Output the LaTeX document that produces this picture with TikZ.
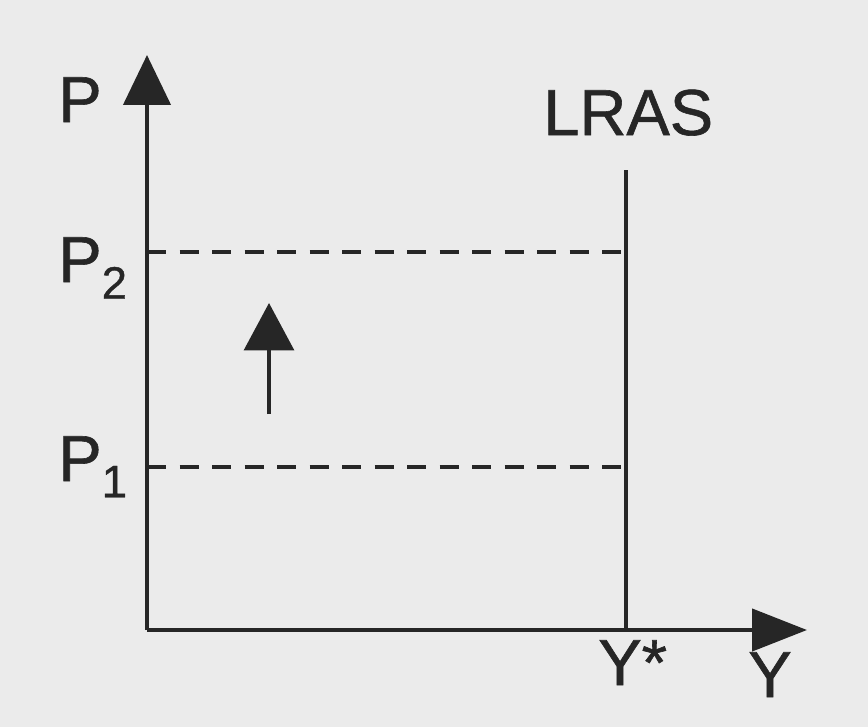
\documentclass[tikz,border=0pt]{standalone}
\usepackage{fontspec}
\setmainfont{Liberation Sans}
\newfontfamily\lblfont[FakeBold=0.9]{Liberation Sans}
\usetikzlibrary{arrows.meta}
\definecolor{bgc}{HTML}{EBEBEB}
\definecolor{ink}{HTML}{262626}
\begin{document}
\begin{tikzpicture}[x=0.02cm,y=-0.02cm,
  axis/.style={draw=ink,line width=2.5pt},
  guide/.style={draw=ink,line width=1.8pt,dash pattern=on 11pt off 7.5pt},
  lbl/.style={inner sep=0pt,anchor=base west,text=ink,font=\fontsize{37}{40}\lblfont}]
\useasboundingbox (0,0) rectangle (868,727);
\fill[bgc] (0,0) rectangle (868,727);
% points
\coordinate (O) at (147,630);
\coordinate (Ytop) at (147,55);
\coordinate (Xend) at (807,630);
\coordinate (Ltop) at (626,170);
\coordinate (Lbot) at (626,630);
\coordinate (P2a) at (147,252);
\coordinate (P2b) at (626,252);
\coordinate (P1a) at (147,467);
\coordinate (P1b) at (626,467);
\coordinate (Abot) at (269,414);
\coordinate (Atop) at (269,303);
% axes
\draw[axis,-{Triangle[length=1cm,width=0.94cm]}] (O) -- (Ytop);
\draw[axis,-{Triangle[length=1.1cm,width=0.84cm]}] (O) -- (Xend);
% LRAS
\draw[draw=ink,line width=2pt] (Ltop) -- (Lbot);
% price lines
\draw[guide] (P2a) -- (P2b);
\draw[guide] (P1a) -- (P1b);
% arrow
\draw[draw=ink,line width=2pt,-{Triangle[length=0.95cm,width=1cm]}] (Abot) -- (Atop);
% labels
\node[lbl] (lP) at (58,122) {P};
\node[lbl] (lLRAS) at (543,135) {LRAS};
\node[lbl] (lP2) at (58,282) {P\textsubscript{2}};
\node[lbl] (lP1) at (58,481) {P\textsubscript{1}};
\node[lbl] (lYs) at (598,685) {Y*};
\node[lbl] (lY) at (748,697) {Y};
\end{tikzpicture}
\end{document}
